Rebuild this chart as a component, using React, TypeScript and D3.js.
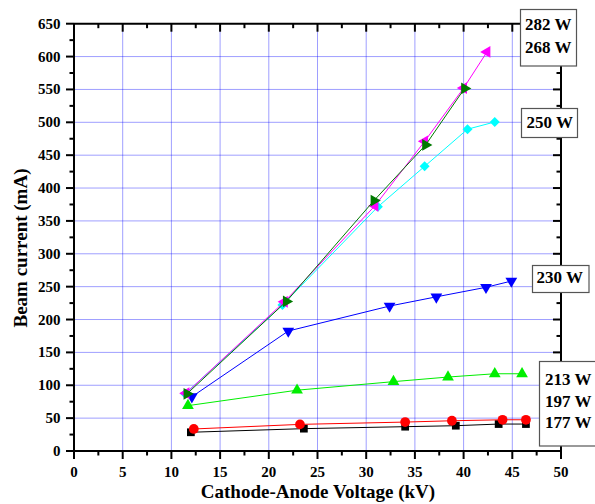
import React from "react";
import * as d3 from "d3";

const W = 595;
const H = 504;

const xTicks = [0, 5, 10, 15, 20, 25, 30, 35, 40, 45, 50];
const yTicks = [0, 50, 100, 150, 200, 250, 300, 350, 400, 450, 500, 550, 600, 650];

const s177x = [12.0, 23.6, 34.0, 39.2, 43.6, 46.4];
const s177y = [28.5, 34, 37, 38.5, 41, 41];
const s197x = [12.3, 23.2, 34.0, 38.8, 44.0, 46.4];
const s197y = [33.5, 40.5, 44, 46, 47.5, 47.5];
const s213x = [11.7, 22.9, 32.8, 38.4, 43.2, 46.0];
const s213y = [69, 92.5, 105.5, 112.5, 117.5, 117.5];
const s230x = [12.1, 22.0, 32.4, 37.2, 42.3, 44.9];
const s230y = [82.5, 182.5, 220.5, 234.5, 249, 258.5];
const s250x = [11.4, 21.4, 31.2, 36.0, 40.4, 43.2];
const s250y = [87, 222, 371.5, 433, 489.5, 500.5];
const s282x = [11.5, 21.6, 30.9, 36.0, 40.0, 42.4];
const s282y = [88, 227, 373, 471, 552, 607];
const s268x = [11.6, 21.8, 30.8, 36.1, 40.1];
const s268y = [87, 227.5, 381, 465.5, 551.5];

type Series = { xs: number[]; ys: number[]; color: string; marker: string };

const series: Series[] = [
  { xs: s177x, ys: s177y, color: "#000000", marker: "square" },
  { xs: s197x, ys: s197y, color: "#ff0000", marker: "circle" },
  { xs: s213x, ys: s213y, color: "#00ee00", marker: "up" },
  { xs: s230x, ys: s230y, color: "#0000ff", marker: "down" },
  { xs: s250x, ys: s250y, color: "#00ffff", marker: "diamond" },
  { xs: s282x, ys: s282y, color: "#ff00ff", marker: "left" },
  { xs: s268x, ys: s268y, color: "#007a00", marker: "right" },
];

const legendBoxes = [
  { x: 520.5, y: 9.5, w: 56, h: 56.5, labels: ["282 W", "268 W"], tx: 525, ty: [30, 52.5] },
  { x: 521.5, y: 108.5, w: 56, h: 29, labels: ["250 W"], tx: 526.5, ty: [127.5] },
  { x: 532.5, y: 265.5, w: 56.5, h: 27, labels: ["230 W"], tx: 536.5, ty: [283] },
  { x: 539.5, y: 361.5, w: 70, h: 84.5, labels: ["213 W", "197 W", "177 W"], tx: 545, ty: [385, 406.7, 428.3] },
];

const L = 74, R = 561, T = 23.7, B = 451;
const FONT = "Liberation Serif, Times New Roman, serif";

function markerPath(m: string): { d: string; rot: number } {
  switch (m) {
    case "square":
      return { d: d3.symbol(d3.symbolSquare, 60)() as string, rot: 0 };
    case "circle":
      return { d: d3.symbol(d3.symbolCircle, 75)() as string, rot: 0 };
    case "up":
      return { d: d3.symbol(d3.symbolTriangle, 60)() as string, rot: 0 };
    case "down":
      return { d: d3.symbol(d3.symbolTriangle, 60)() as string, rot: 180 };
    case "left":
      return { d: d3.symbol(d3.symbolTriangle, 60)() as string, rot: -90 };
    case "right":
      return { d: d3.symbol(d3.symbolTriangle, 60)() as string, rot: 90 };
    case "diamond":
      return { d: d3.symbol(d3.symbolSquare, 50)() as string, rot: 45 };
  }
  return { d: "", rot: 0 };
}

const txt: React.CSSProperties = { fontFamily: FONT, fontWeight: "bold" };

export default function App() {
  const x = d3.scaleLinear().domain([0, 50]).range([L, R]);
  const y = d3.scaleLinear().domain([0, 650]).range([B, T]);
  const xMinor = d3.range(0, 50.01, 2.5);
  const yMinor = d3.range(0, 650.01, 25);
  const line = d3
    .line<[number, number]>()
    .x((d) => x(d[0]))
    .y((d) => y(d[1]));

  return (
    <svg
      width={W}
      height={H}
      style={{ position: "absolute", left: 0, top: 0, background: "#fff" }}
    >
      <rect x={0} y={0} width={W} height={H} fill="#fff" />
      {xTicks.slice(1, -1).map((t) => (
        <line key={"gx" + t} x1={x(t)} x2={x(t)} y1={T} y2={B} stroke="#0000ff" strokeOpacity={0.38} strokeWidth={1} />
      ))}
      {yTicks.slice(1, -1).map((t) => (
        <line key={"gy" + t} x1={L} x2={R} y1={y(t)} y2={y(t)} stroke="#0000ff" strokeOpacity={0.38} strokeWidth={1} />
      ))}
      {series.map((s, i) => {
        const pts = s.xs.map((v, j) => [v, s.ys[j]] as [number, number]);
        const mp = markerPath(s.marker);
        return (
          <g key={"s" + i}>
            <path d={line(pts) as string} fill="none" stroke={s.color} strokeWidth={1} />
            {pts.map((p, j) => (
              <path
                key={j}
                d={mp.d}
                fill={s.color}
                transform={`translate(${x(p[0])},${y(p[1])}) rotate(${mp.rot})`}
              />
            ))}
          </g>
        );
      })}
      <line x1={L} x2={R} y1={B} y2={B} stroke="#000" strokeWidth={2} />
      <line x1={L} x2={R} y1={T} y2={T} stroke="#000" strokeWidth={2} />
      <line x1={L} x2={L} y1={T} y2={B} stroke="#000" strokeWidth={2} />
      <line x1={R} x2={R} y1={T} y2={B} stroke="#000" strokeWidth={2} />
      {xMinor.map((t, i) => {
        const major = i % 2 === 0;
        const len = major ? 8 : 4.5;
        return (
          <g key={"xt" + i}>
            <line x1={x(t)} x2={x(t)} y1={B} y2={B + len} stroke="#000" strokeWidth={2} />
            <line x1={x(t)} x2={x(t)} y1={T} y2={T + len} stroke="#000" strokeWidth={2} />
          </g>
        );
      })}
      {yMinor.map((t, i) => {
        const major = i % 2 === 0;
        const len = major ? 8 : 4.5;
        return (
          <g key={"yt" + i}>
            <line x1={L - len} x2={L} y1={y(t)} y2={y(t)} stroke="#000" strokeWidth={2} />
            <line x1={R - len} x2={R} y1={y(t)} y2={y(t)} stroke="#000" strokeWidth={2} />
          </g>
        );
      })}
      {xTicks.map((t) => (
        <text key={"xl" + t} x={x(t)} y={476.5} textAnchor="middle" fontSize={15} style={txt}>
          {t}
        </text>
      ))}
      {yTicks.map((t) => (
        <text key={"yl" + t} x={60.5} y={y(t) + 5} textAnchor="end" fontSize={15} style={txt}>
          {t}
        </text>
      ))}
      <text x={318} y={497.5} textAnchor="middle" fontSize={19} style={txt}>
        Cathode-Anode Voltage (kV)
      </text>
      <text transform={`translate(27,248) rotate(-90)`} textAnchor="middle" fontSize={19} style={txt}>
        Beam current (mA)
      </text>
      {legendBoxes.map((b, i) => (
        <g key={"lb" + i}>
          <rect x={b.x} y={b.y} width={b.w} height={b.h} fill="#fff" stroke="#555" strokeWidth={1.2} />
          {b.labels.map((lab, j) => (
            <text key={j} x={b.tx} y={b.ty[j]} fontSize={17} style={txt}>
              {lab}
            </text>
          ))}
        </g>
      ))}
    </svg>
  );
}
